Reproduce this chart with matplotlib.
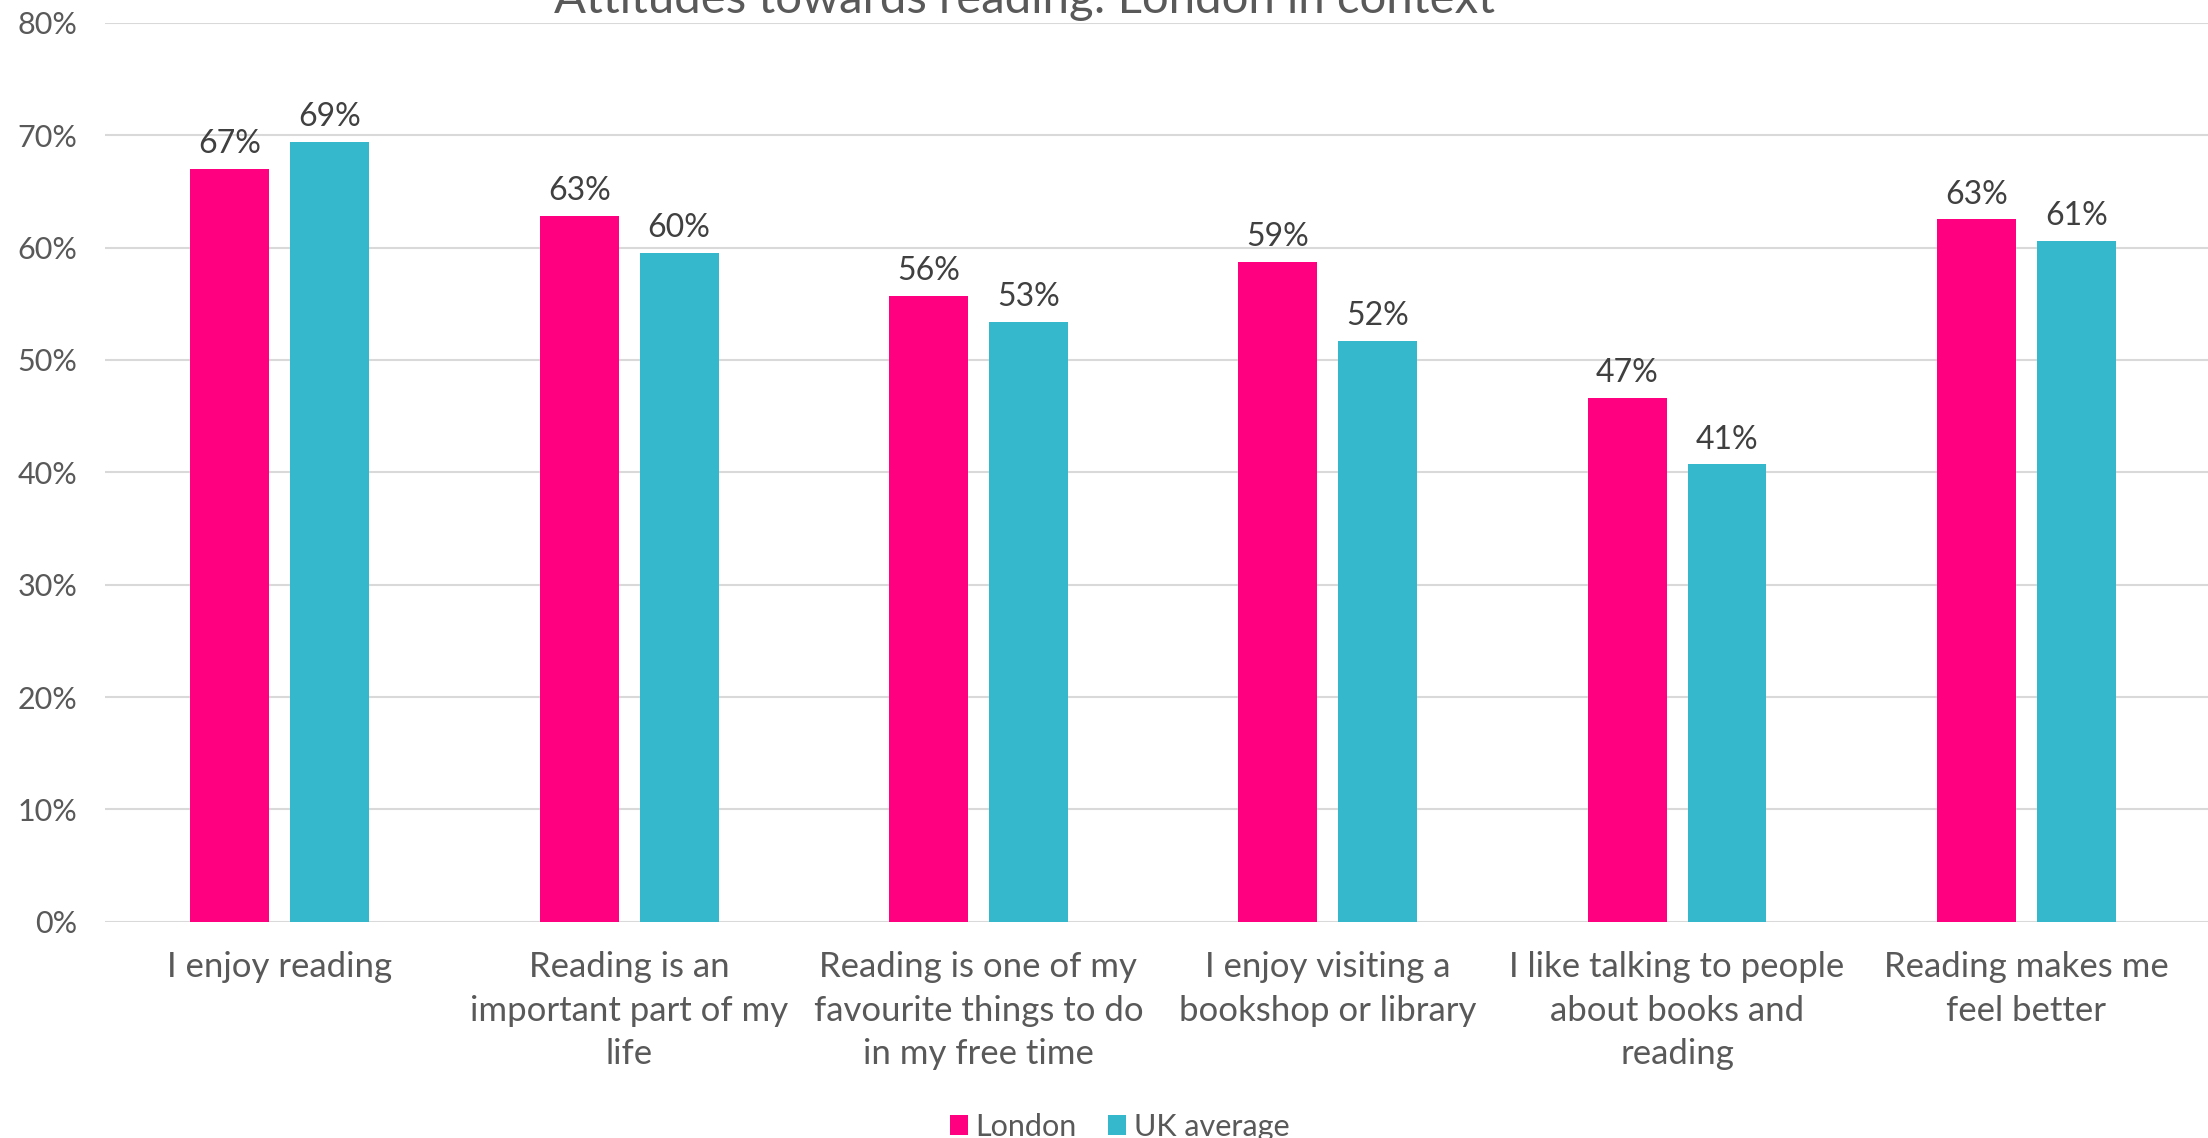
"""
Attitudes towards reading: London vs UK average, grouped bar chart.
"""

import numpy as np
import matplotlib.pyplot as plt

plt.rcParams["font.family"] = ["Lato", "DejaVu Sans"]

categories = [
    "I enjoy reading",
    "Reading is an\nimportant part of my\nlife",
    "Reading is one of my\nfavourite things to do\nin my free time",
    "I enjoy visiting a\nbookshop or library",
    "I like talking to people\nabout books and\nreading",
    "Reading makes me\nfeel better",
]
london = [67.0, 62.8, 55.7, 58.7, 46.6, 62.5]
uk_average = [69.4, 59.5, 53.4, 51.7, 40.7, 60.6]
london_labels = ["67%", "63%", "56%", "59%", "47%", "63%"]
uk_labels = ["69%", "60%", "53%", "52%", "41%", "61%"]
y_ticks = [0, 10, 20, 30, 40, 50, 60, 70, 80]

PINK = "#FF0080"
TEAL = "#35B8CB"
TEXT = "#595959"
GRID = "#D9D9D9"

fig = plt.figure(figsize=(22.08, 11.38), dpi=100)
ax = fig.add_axes([0.0476, 0.190, 0.9524, 0.790])

x = np.arange(len(categories))
w = 0.226
off = 0.143
b1 = ax.bar(x - off, london, w, color=PINK, label="London", zorder=3)
b2 = ax.bar(x + off, uk_average, w, color=TEAL, label="UK average", zorder=3)

for bars, labels in ((b1, london_labels), (b2, uk_labels)):
    for bar, lab in zip(bars, labels):
        ax.annotate(lab, (bar.get_x() + bar.get_width() / 2, bar.get_height()),
                    xytext=(0, 7), textcoords="offset points", ha="center", va="bottom",
                    fontsize=23, color="#404040")

ax.set_ylim(0, 80)
ax.set_xlim(-0.5, 5.52)
ax.set_yticks(y_ticks)
ax.set_yticklabels([f"{t}%" for t in y_ticks])
ax.set_xticks(x)
ax.set_xticklabels(categories, linespacing=1.45, fontsize=25)
ax.grid(axis="y", color=GRID, linewidth=1.5, zorder=0)
ax.tick_params(axis="both", length=0, labelcolor=TEXT)
ax.tick_params(axis="y", pad=20, labelsize=22)
ax.tick_params(axis="x", pad=21)
for s in ax.spines.values():
    s.set_visible(False)

fig.text(0.464, 0.989, "Attitudes towards reading: London in context", ha="center",
         va="baseline", fontsize=34, color=TEXT)

fig.legend(handles=[b1, b2], loc="center", bbox_to_anchor=(0.507, 0.010), ncol=2,
           frameon=False, fontsize=22, labelcolor=TEXT, handlelength=0.6, handleheight=0.6,
           handletextpad=0.25, columnspacing=1.0, borderpad=0)

fig.savefig("out.png", dpi=100)
